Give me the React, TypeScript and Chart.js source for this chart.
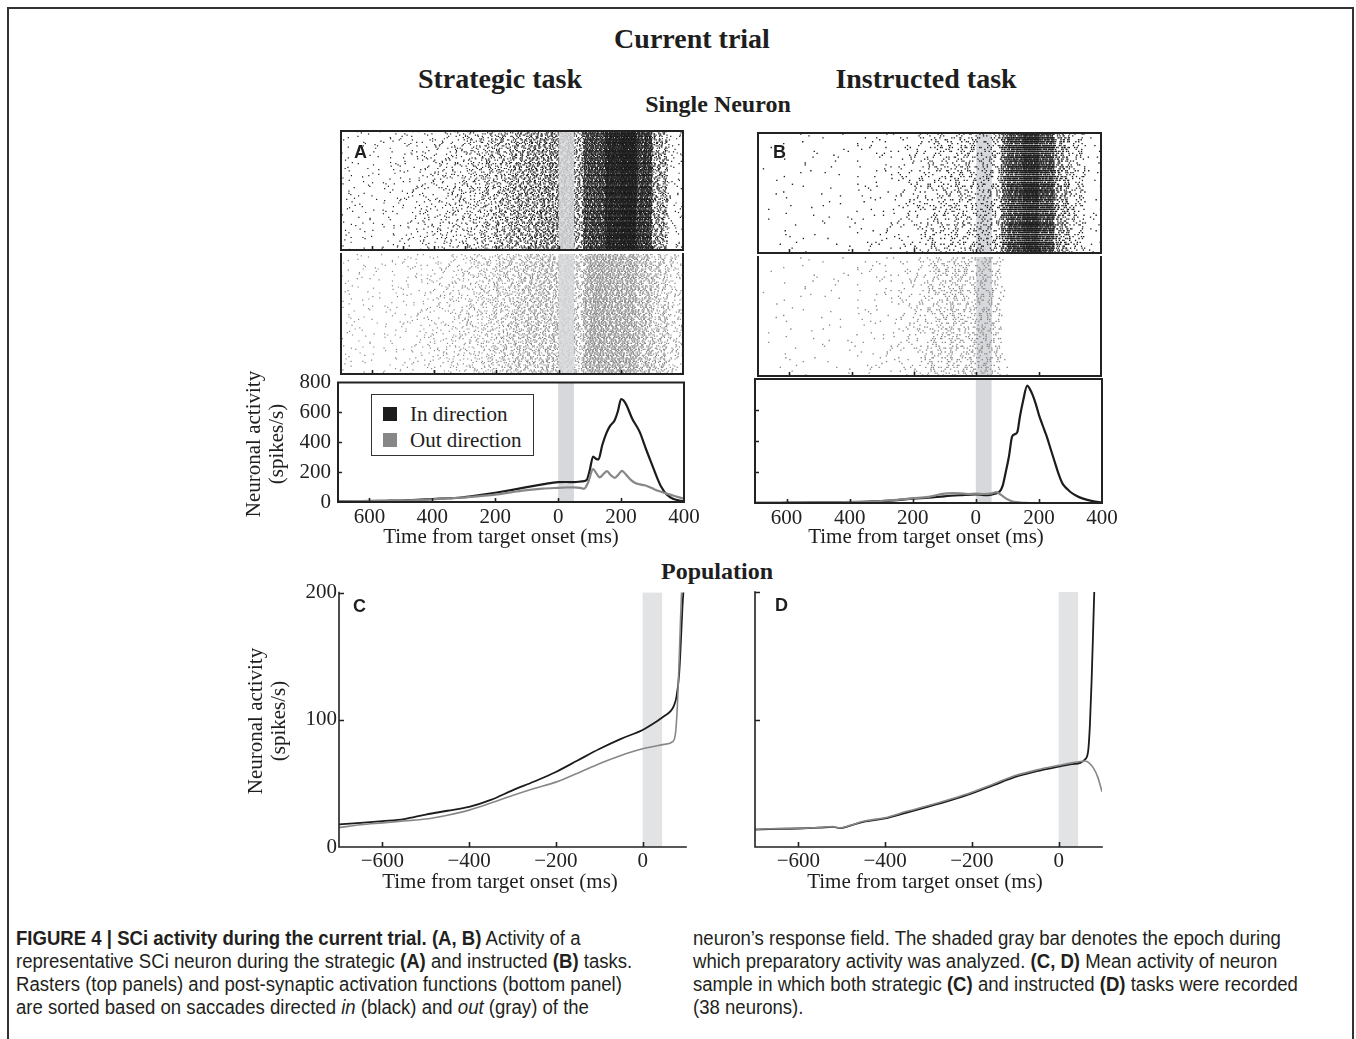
import React, { useEffect, useLayoutEffect, useRef } from 'react';
import { Chart, registerables } from 'chart.js';
Chart.register(...registerables);

const SERIF = '"Liberation Serif", "Times New Roman", serif';
const SANS = '"Liberation Sans", Arial, sans-serif';
const NARROW = '"Liberation Sans Narrow", "Arial Narrow", "Liberation Sans", sans-serif';

// ---------------- DATA ----------------
// Single neuron PSTH, strategic task (A)
const A_IN_T = [-700, -650, -600, -550, -500, -450, -400, -350, -300, -250, -200, -150, -100, -50, 0, 25, 50, 75, 90, 100, 111, 120, 128, 140, 153, 165, 180, 190, 200, 208, 217, 235, 259, 280, 301, 315, 328, 345, 365, 385, 400];
const A_IN_V = [5, 5, 6, 8, 10, 14, 20, 25, 32, 46, 62, 80, 100, 118, 133, 134, 133, 138, 146, 210, 305, 290, 285, 380, 460, 510, 550, 610, 690, 680, 650, 560, 470, 350, 236, 160, 100, 50, 22, 10, 5];
const A_OUT_T = [-700, -650, -600, -550, -500, -450, -400, -350, -300, -250, -200, -150, -100, -50, 0, 25, 50, 70, 82, 95, 111, 122, 132, 145, 155, 167, 180, 192, 203, 215, 230, 245, 260, 275, 290, 305, 325, 345, 370, 400];
const A_OUT_V = [5, 6, 7, 8, 10, 13, 18, 24, 30, 40, 50, 65, 80, 90, 95, 97, 98, 95, 88, 130, 220, 190, 165, 190, 207, 180, 162, 185, 208, 185, 150, 128, 118, 112, 100, 86, 70, 56, 40, 22];
// Single neuron PSTH, instructed task (B)
const B_IN_T = [-700, -650, -600, -550, -500, -450, -400, -350, -300, -250, -200, -150, -100, -50, 0, 15, 30, 45, 60, 75, 85, 95, 105, 115, 125, 132, 140, 150, 163, 170, 180, 190, 200, 212, 225, 237, 250, 262, 275, 290, 300, 320, 340, 370, 400];
const B_IN_V = [1, 1, 2, 3, 4, 5, 6, 8, 12, 18, 28, 34, 43, 50, 56, 54, 50, 52, 60, 72, 110, 200, 300, 428, 445, 460, 560, 660, 757, 740, 698, 640, 569, 500, 428, 350, 266, 190, 125, 90, 71, 45, 28, 12, 2];
const B_OUT_T = [-700, -650, -600, -550, -500, -450, -400, -350, -300, -250, -200, -150, -100, -75, -50, -25, 0, 25, 50, 65, 80, 100, 120, 140, 170];
const B_OUT_V = [1, 1, 2, 3, 4, 5, 7, 9, 13, 20, 30, 40, 60, 64, 62, 58, 60, 58, 62, 70, 52, 24, 8, 3, 0];
// Population (C: strategic, D: instructed)
const C_IN_T = [-700, -650, -600, -550, -500, -450, -400, -350, -300, -250, -200, -150, -100, -50, 0, 25, 50, 65, 72, 78, 84, 88, 92, 95];
const C_IN_V = [17.8, 19, 20.4, 22, 25.5, 28.5, 31.5, 37, 44.5, 51.5, 59, 68, 77, 85, 92, 97, 103, 107, 111, 118, 135, 160, 190, 205];
const C_OUT_T = [-700, -650, -600, -550, -500, -450, -400, -350, -300, -250, -200, -150, -100, -50, 0, 25, 50, 70, 76, 80, 84, 88, 91];
const C_OUT_V = [15.2, 17.5, 19, 20.5, 22, 25, 29, 34.5, 40.5, 46, 51, 58, 65.5, 72, 77.3, 79, 80.7, 83, 90, 110, 145, 185, 210];
const D_IN_T = [-700, -650, -600, -550, -520, -505, -480, -450, -400, -350, -300, -250, -200, -150, -100, -50, 0, 30, 50, 60, 68, 72, 76, 80, 83];
const D_IN_V = [13.7, 14.2, 14.5, 15.2, 15.8, 14.8, 16.8, 19.7, 22.4, 27, 31.6, 36.5, 42, 48.5, 55, 59.5, 63, 65, 66, 68.4, 75, 95, 130, 175, 210];
const D_OUT_T = [-700, -650, -600, -550, -520, -505, -480, -450, -400, -350, -300, -250, -200, -150, -100, -50, 0, 30, 50, 62, 70, 80, 90, 100];
const D_OUT_V = [13.9, 14.5, 14.6, 15.4, 16, 15, 17, 20.2, 23, 28, 32.5, 37.5, 43, 49.5, 56, 60.5, 64, 66, 67, 67.5, 66, 62, 55, 43.4];

// Raster spike rates per time bin (spikes/s), read from raster density
const RASTER_EDGES = [-700, -650, -600, -550, -500, -450, -400, -350, -300, -250, -200, -150, -100, -50, 0, 50, 80, 100, 150, 200, 250, 300, 350, 400];
const A_IN_RATE = [5, 6, 8, 10, 13, 18, 23, 29, 38, 52, 68, 88, 108, 125, 133, 95, 300, 330, 540, 640, 380, 100, 15];
const A_OUT_RATE = [5, 6, 7, 9, 11, 15, 20, 25, 33, 44, 57, 72, 85, 93, 97, 75, 150, 190, 180, 170, 112, 70, 35];
const B_IN_RATE = [1, 2, 3, 3, 4, 5, 7, 9, 12, 20, 30, 40, 48, 55, 53, 60, 250, 440, 700, 430, 130, 45, 8];
const B_OUT_RATE = [1, 2, 3, 3, 4, 5, 7, 9, 12, 20, 30, 50, 62, 60, 60, 50, 8, 0, 0, 0, 0, 0, 0];
// trial-to-trial gain, start phase and inter-spike irregularity tables
const ROW_GAIN = [1.0, 0.75, 1.3, 0.9, 1.15, 0.65, 1.05, 1.4, 0.85, 1.2];
const ROW_PHASE = [0.12, 0.57, 0.33, 0.91, 0.46, 0.05, 0.78, 0.24, 0.66, 0.39, 0.84, 0.18, 0.52];
const ISI_JITTER = [0.35, 1.6, 0.9, 2.2, 0.5, 1.1, 0.25, 1.8, 0.7, 1.3, 0.45, 2.6, 0.8, 1.0, 0.3, 1.5, 0.6, 1.9, 0.95, 0.4, 1.2, 0.55, 1.4];

// Tick values
const PSTH_X_LABELS = [-600, -400, -200, 0, 200, 400];
const PSTH_X_TICKS = [-600, -400, -200, 0, 200];
const PSTH_Y_LABELS = [0, 200, 400, 600, 800];
const PSTH_Y_TICKS = [200, 400, 600];
const RASTER_FINE_TICKS = [-600, -500, -400, -300, -200, -100, 0, 100, 200, 300];
const RASTER_TICKS = [-600, -400, -200, 0, 200];
const POP_X_LABELS = [-600, -400, -200, 0];
const POP_Y_LABELS = [0, 100, 200];
const POP_Y_TICKS = [100, 200];

// ---------------- helpers ----------------
const zip = (t: number[], v: number[]) => t.map((x, i) => ({ x, y: v[i] }));

function rasterPoints(rates: number[], rows: number) {
  const pts: { x: number; y: number }[] = [];
  const J = ISI_JITTER.length;
  for (let r = 0; r < rows; r++) {
    const g = ROW_GAIN[r % ROW_GAIN.length];
    let k = (r * 7 + 3) % J;
    let th = ISI_JITTER[k] * ROW_PHASE[r % ROW_PHASE.length];
    let acc = 0;
    for (let b = 0; b < rates.length; b++) {
      for (let t = RASTER_EDGES[b]; t < RASTER_EDGES[b + 1]; t += 1) {
        acc += rates[b] * g * 0.001;
        while (acc >= th) {
          acc -= th;
          k = (k + 1) % J;
          th = ISI_JITTER[k];
          pts.push({ x: t + 0.5, y: rows - r - 0.5 });
        }
      }
    }
  }
  return pts;
}

const shadePlugin = {
  id: 'shade',
  _draw(chart: any, o: any) {
    const { ctx, chartArea: a, scales } = chart;
    const x0 = scales.x.getPixelForValue(o.from);
    const x1 = scales.x.getPixelForValue(o.to);
    ctx.save();
    ctx.fillStyle = o.color;
    ctx.fillRect(x0, a.top, x1 - x0, a.bottom - a.top);
    ctx.restore();
  },
  beforeDatasetsDraw(chart: any, _a: any, o: any) {
    if (o && o.from !== undefined && !o.over) shadePlugin._draw(chart, o);
  },
  afterDatasetsDraw(chart: any, _a: any, o: any) {
    if (o && o.from !== undefined && o.over) shadePlugin._draw(chart, o);
  },
};

const decoPlugin = {
  id: 'deco',
  afterDatasetsDraw(chart: any, _a: any, o: any) {
    const { ctx, chartArea: a, scales } = chart;
    ctx.save();
    ctx.strokeStyle = '#222';
    ctx.lineWidth = o.width || 2;
    ctx.lineCap = 'square';
    const sides: string[] = o.sides || [];
    ctx.beginPath();
    if (sides.includes('top')) { ctx.moveTo(a.left, a.top); ctx.lineTo(a.right, a.top); }
    if (sides.includes('bottom')) { ctx.moveTo(a.left, a.bottom); ctx.lineTo(a.right, a.bottom); }
    if (sides.includes('left')) { ctx.moveTo(a.left, a.top); ctx.lineTo(a.left, a.bottom); }
    if (sides.includes('right')) { ctx.moveTo(a.right, a.top); ctx.lineTo(a.right, a.bottom); }
    ctx.stroke();
    const len = o.len || 4;
    ctx.lineCap = 'butt';
    ctx.lineWidth = 1.6;
    ctx.beginPath();
    (o.xTicks || []).forEach((v: number) => {
      const px = Math.round(scales.x.getPixelForValue(v)) + 0.5;
      ctx.moveTo(px, a.bottom);
      ctx.lineTo(px, a.bottom - len);
    });
    (o.yTicks || []).forEach((v: number) => {
      const py = Math.round(scales.y.getPixelForValue(v)) + 0.5;
      ctx.moveTo(a.left, py);
      ctx.lineTo(a.left + len, py);
    });
    ctx.stroke();
    ctx.restore();
  },
};

type Box = { l: number; t: number; r: number; b: number };
type Pad = { L: number; T: number; R: number; B: number };
interface Spec {
  box: Box;
  pad: Pad;
  xMin: number; xMax: number; yMin: number; yMax: number;
  datasets: any[];
  xLabels?: number[]; xFmt?: (v: number) => string; xPad?: number;
  yLabels?: number[]; yShowLabels?: boolean; yPad?: number;
  shade?: any;
  deco: any;
}

const TICK_FONT = 21;

function buildConfig(s: Spec): any {
  const showX = !!s.xLabels;
  const showY = !!s.yLabels;
  const font = { family: SERIF, size: TICK_FONT };
  return {
    type: 'scatter',
    data: { datasets: s.datasets },
    options: {
      animation: false,
      responsive: false,
      maintainAspectRatio: false,
      events: [],
      layout: {
        padding: { left: showY ? 0 : s.pad.L, right: s.pad.R, top: s.pad.T, bottom: showX ? 0 : s.pad.B },
      },
      plugins: {
        legend: { display: false },
        tooltip: { enabled: false },
        shade: s.shade || {},
        deco: s.deco,
      },
      scales: {
        x: {
          type: 'linear', min: s.xMin, max: s.xMax, display: showX,
          grid: { display: false, drawTicks: false }, border: { display: false },
          ticks: {
            autoSkip: false, maxRotation: 0, padding: s.xPad ?? 4, color: '#222', font,
            callback: (v: number) => (s.xFmt ? s.xFmt(v) : String(v)),
          },
          afterBuildTicks: (sc: any) => { sc.ticks = (s.xLabels || []).map((v) => ({ value: v })); },
          afterFit: (sc: any) => { sc.height = s.pad.B; },
        },
        y: {
          type: 'linear', min: s.yMin, max: s.yMax, display: showY,
          grid: { display: false, drawTicks: false }, border: { display: false },
          ticks: {
            display: s.yShowLabels !== false, autoSkip: false, padding: s.yPad ?? 6, color: '#222', font,
            callback: (v: number) => String(v),
          },
          afterBuildTicks: (sc: any) => { sc.ticks = (s.yLabels || []).map((v) => ({ value: v })); },
          afterFit: (sc: any) => { sc.width = s.pad.L; },
        },
      },
    },
    plugins: [shadePlugin, decoPlugin],
  };
}

function ChartBox({ spec }: { spec: Spec }) {
  const ref = useRef<HTMLCanvasElement>(null);
  const { box, pad } = spec;
  const W = box.r - box.l + pad.L + pad.R;
  const H = box.b - box.t + pad.T + pad.B;
  useEffect(() => {
    const c = new Chart(ref.current as HTMLCanvasElement, buildConfig(spec));
    return () => c.destroy();
  }, []);
  return (
    <canvas
      ref={ref}
      width={W}
      height={H}
      style={{ position: 'absolute', left: box.l - pad.L, top: box.t - pad.T, width: W, height: H }}
    />
  );
}

// ---------------- panel specs ----------------
const BLACK = '#1c1c1c';
const GRAY = '#878787';
const SHADE = '#d6d8db';
const SHADE_LIGHT = '#e2e3e5';
const absFmt = (v: number) => String(Math.abs(v));
const minusFmt = (v: number) => (v < 0 ? '\u2212' + Math.abs(v) : String(v));
const RP: Pad = { L: 3, T: 3, R: 3, B: 3 };

const rasterDs = (rates: number[], rows: number, color: string, radius: number) => [{
  data: rasterPoints(rates, rows), pointStyle: 'rect', pointRadius: radius, pointBorderWidth: 0,
  borderWidth: 0, backgroundColor: color, pointBackgroundColor: color, showLine: false,
}];
const lineDs = (t: number[], v: number[], color: string, w: number) => ({
  data: zip(t, v), showLine: true, borderColor: color, borderWidth: w, pointRadius: 0,
  tension: 0.3, cubicInterpolationMode: 'monotone', fill: false,
});

const A_ROWS = 100;
const B_ROWS = 62;

const SPECS: Spec[] = [
  {
    box: { l: 338, t: 130, r: 684, b: 253 }, pad: RP, xMin: -700, xMax: 400, yMin: 0, yMax: A_ROWS,
    datasets: rasterDs(A_IN_RATE, A_ROWS, BLACK, 0.85),
    shade: { from: 0, to: 50, color: 'rgba(214,216,219,0.85)', over: true },
    deco: { sides: ['top', 'right', 'bottom', 'left'], xTicks: RASTER_FINE_TICKS, len: 4 },
  },
  {
    box: { l: 338, t: 253, r: 684, b: 377 }, pad: RP, xMin: -700, xMax: 400, yMin: 0, yMax: A_ROWS,
    datasets: rasterDs(A_OUT_RATE, A_ROWS, GRAY, 0.85),
    shade: { from: 0, to: 50, color: 'rgba(214,216,219,0.85)', over: true },
    deco: { sides: ['right', 'bottom', 'left'], xTicks: RASTER_TICKS, len: 4 },
  },
  {
    box: { l: 338, t: 377, r: 684, b: 502 }, pad: { L: 60, T: 14, R: 26, B: 32 },
    xMin: -700, xMax: 400, yMin: 0, yMax: 800,
    datasets: [lineDs(A_OUT_T, A_OUT_V, GRAY, 2.2), lineDs(A_IN_T, A_IN_V, BLACK, 2.2)],
    xLabels: PSTH_X_LABELS, xFmt: absFmt, xPad: 3, yLabels: PSTH_Y_LABELS, yPad: 7,
    shade: { from: 0, to: 50, color: SHADE },
    deco: { sides: ['top', 'right', 'bottom', 'left'], xTicks: PSTH_X_TICKS, yTicks: PSTH_Y_TICKS, len: 4 },
  },
  {
    box: { l: 755, t: 132, r: 1102, b: 256 }, pad: RP, xMin: -700, xMax: 400, yMin: 0, yMax: B_ROWS,
    datasets: rasterDs(B_IN_RATE, B_ROWS, BLACK, 0.95),
    shade: { from: 0, to: 50, color: SHADE },
    deco: { sides: ['top', 'right', 'bottom', 'left'], xTicks: RASTER_TICKS, len: 4 },
  },
  {
    box: { l: 755, t: 256, r: 1102, b: 379 }, pad: RP, xMin: -700, xMax: 400, yMin: 0, yMax: B_ROWS,
    datasets: rasterDs(B_OUT_RATE, B_ROWS, GRAY, 0.95),
    shade: { from: 0, to: 50, color: SHADE },
    deco: { sides: ['right', 'bottom', 'left'], xTicks: RASTER_TICKS, len: 4 },
  },
  {
    box: { l: 755, t: 379, r: 1102, b: 503 }, pad: { L: 40, T: 14, R: 26, B: 32 },
    xMin: -700, xMax: 400, yMin: 0, yMax: 800,
    datasets: [lineDs(B_OUT_T, B_OUT_V, GRAY, 2.2), lineDs(B_IN_T, B_IN_V, BLACK, 2.2)],
    xLabels: PSTH_X_LABELS, xFmt: absFmt, xPad: 3, yLabels: PSTH_Y_LABELS, yShowLabels: false,
    shade: { from: 0, to: 50, color: SHADE },
    deco: { sides: ['top', 'right', 'bottom', 'left'], xTicks: PSTH_X_TICKS, yTicks: PSTH_Y_TICKS, len: 4 },
  },
  {
    box: { l: 339, t: 592, r: 686, b: 847 }, pad: { L: 60, T: 14, R: 20, B: 32 },
    xMin: -700, xMax: 100, yMin: 0, yMax: 200,
    datasets: [lineDs(C_OUT_T, C_OUT_V, GRAY, 1.6), lineDs(C_IN_T, C_IN_V, BLACK, 1.8)],
    xLabels: POP_X_LABELS, xFmt: minusFmt, xPad: 2, yLabels: POP_Y_LABELS, yPad: 2,
    shade: { from: 0, to: 45, color: SHADE_LIGHT },
    deco: { sides: ['left', 'bottom'], width: 1.6, xTicks: POP_X_LABELS, yTicks: POP_Y_TICKS, len: 5 },
  },
  {
    box: { l: 755, t: 592, r: 1102, b: 847 }, pad: { L: 40, T: 14, R: 20, B: 32 },
    xMin: -700, xMax: 100, yMin: 0, yMax: 200,
    datasets: [lineDs(D_OUT_T, D_OUT_V, GRAY, 1.6), lineDs(D_IN_T, D_IN_V, BLACK, 1.8)],
    xLabels: POP_X_LABELS, xFmt: minusFmt, xPad: 2, yLabels: POP_Y_LABELS, yShowLabels: false,
    shade: { from: 0, to: 45, color: SHADE_LIGHT },
    deco: { sides: ['left', 'bottom'], width: 1.6, xTicks: POP_X_LABELS, yTicks: POP_Y_TICKS, len: 5 },
  },
];

// ---------------- text helpers ----------------
function Txt({ x, cy, size, bold, family = SERIF, center, children }: any) {
  return (
    <div
      style={{
        position: 'absolute', left: x, top: cy - size * 0.52, fontSize: size, lineHeight: `${size}px`,
        fontFamily: family, fontWeight: bold ? 'bold' : 'normal', whiteSpace: 'nowrap', color: '#1e1e1e',
        transform: center ? 'translateX(-50%)' : undefined,
      }}
    >
      {children}
    </div>
  );
}

function Letter({ x, top, children }: any) {
  return (
    <div style={{ position: 'absolute', left: x, top, fontSize: 18, lineHeight: '18px', fontFamily: SANS, fontWeight: 'bold', color: '#1e1e1e' }}>
      {children}
    </div>
  );
}

function YTitle({ cx, cy }: { cx: number; cy: number }) {
  return (
    <div
      style={{
        position: 'absolute', left: cx, top: cy, transform: 'translate(-50%, -50%) rotate(-90deg)',
        fontFamily: SERIF, fontSize: 21, lineHeight: '23px', textAlign: 'center', whiteSpace: 'nowrap', color: '#1e1e1e',
      }}
    >
      Neuronal activity<br />(spikes/s)
    </div>
  );
}

const CAP_LINES: { x: number; y: number; w: number; node: React.ReactNode }[] = [
  { x: 16, y: 940, w: 574, node: <><b>FIGURE 4 | SCi activity during the current trial.</b> <b>(A, B)</b> Activity of a</> },
  { x: 16, y: 963, w: 636, node: <>representative SCi neuron during the strategic <b>(A)</b> and instructed <b>(B)</b> tasks.</> },
  { x: 16, y: 986, w: 618, node: <>Rasters (top panels) and post-synaptic activation functions (bottom panel)</> },
  { x: 16, y: 1009, w: 554, node: <>are sorted based on saccades directed <i>in</i> (black) and <i>out</i> (gray) of the</> },
  { x: 693, y: 940, w: 583, node: <>neuron’s response field. The shaded gray bar denotes the epoch during</> },
  { x: 693, y: 963, w: 560, node: <>which preparatory activity was analyzed. <b>(C, D)</b> Mean activity of neuron</> },
  { x: 693, y: 986, w: 603, node: <>sample in which both strategic <b>(C)</b> and instructed <b>(D)</b> tasks were recorded</> },
  { x: 693, y: 1009, w: 119, node: <>(38 neurons).</> },
];

function Caption() {
  const ref = useRef<HTMLDivElement>(null);
  useLayoutEffect(() => {
    const root = ref.current;
    if (!root) return;
    const els = Array.from(root.querySelectorAll('[data-w]')) as HTMLElement[];
    let nat = 0;
    let tgt = 0;
    els.forEach((el) => { nat += el.getBoundingClientRect().width; tgt += Number(el.dataset.w); });
    const k = nat > 0 ? tgt / nat : 1;
    els.forEach((el) => { el.style.transform = `scaleX(${k})`; });
  }, []);
  const fs = 19.5;
  return (
    <div ref={ref}>
      {CAP_LINES.map((l, i) => (
        <div
          key={i}
          data-w={l.w}
          style={{
            position: 'absolute', left: l.x, top: l.y - fs * 0.56, fontSize: fs, lineHeight: `${fs}px`,
            fontFamily: NARROW, whiteSpace: 'nowrap', color: '#231f20', transformOrigin: 'left center',
          }}
        >
          {l.node}
        </div>
      ))}
    </div>
  );
}

function Legend() {
  const item = (top: number, color: string, label: string) => (
    <>
      <div style={{ position: 'absolute', left: 11, top, width: 14, height: 14, background: color }} />
      <div style={{ position: 'absolute', left: 38, top: top - 5, fontFamily: SERIF, fontSize: 21, lineHeight: '24px', whiteSpace: 'nowrap', color: '#1e1e1e' }}>
        {label}
      </div>
    </>
  );
  return (
    <div style={{ position: 'absolute', left: 371, top: 394, width: 163, height: 62, border: '1.5px solid #333', boxSizing: 'border-box', background: '#fff' }}>
      {item(12, BLACK, 'In direction')}
      {item(38, GRAY, 'Out direction')}
    </div>
  );
}

export default function App() {
  return (
    <div style={{ position: 'absolute', left: 0, top: 0, width: 1356, height: 1039, overflow: 'hidden', background: '#fff' }}>
      <div style={{ position: 'absolute', left: 7, top: 7, width: 1347, height: 1200, borderTop: '2px solid #333', borderLeft: '2px solid #333', borderRight: '2px solid #333', boxSizing: 'border-box' }} />
      <Txt x={692} cy={40} size={28} bold center>Current trial</Txt>
      <Txt x={500} cy={80} size={28} bold center>Strategic task</Txt>
      <Txt x={926} cy={80} size={28} bold center>Instructed task</Txt>
      <Txt x={718} cy={104} size={24} bold center>Single Neuron</Txt>
      <Txt x={717} cy={571} size={24} bold center>Population</Txt>

      {SPECS.map((s, i) => <ChartBox key={i} spec={s} />)}

      <Legend />
      <Letter x={354} top={143}>A</Letter>
      <Letter x={773} top={143}>B</Letter>
      <Letter x={353} top={597}>C</Letter>
      <Letter x={775} top={596}>D</Letter>

      <YTitle cx={265} cy={444} />
      <YTitle cx={267} cy={721} />
      <Txt x={501} cy={537} size={21} center>Time from target onset (ms)</Txt>
      <Txt x={926} cy={537} size={21} center>Time from target onset (ms)</Txt>
      <Txt x={500} cy={882} size={21} center>Time from target onset (ms)</Txt>
      <Txt x={925} cy={882} size={21} center>Time from target onset (ms)</Txt>

      <Caption />
    </div>
  );
}
